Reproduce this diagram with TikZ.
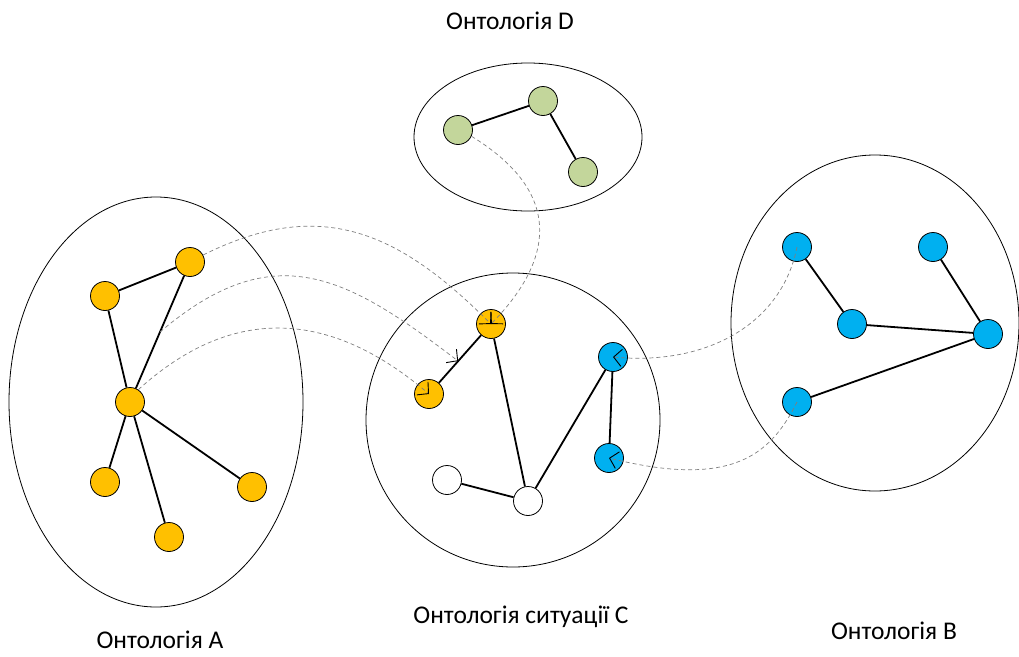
\documentclass[tikz,border=0pt]{standalone}
\usepackage{fontspec}
\setmainfont{Carlito}
\usetikzlibrary{arrows.meta,calc}
\definecolor{ogold}{HTML}{FFC000}
\definecolor{oblue}{HTML}{00B0F0}
\definecolor{ogreen}{HTML}{C3D69B}
\definecolor{mapgrey}{HTML}{7F7F7F}
\begin{document}
\begin{tikzpicture}[x=1pt,y=-1pt,
  font=\fontsize{25.5}{30}\selectfont,
  conc/.style={circle,draw=black,line width=0.8pt,minimum size=29pt,inner sep=0pt},
  onode/.style={conc,fill=ogold},
  bnode/.style={conc,fill=oblue},
  gnode/.style={conc,fill=ogreen},
  wnode/.style={conc,fill=white},
  link/.style={line width=1.8pt,black},
  onto/.style={line width=0.8pt,black},
  label/.style={anchor=base,inner sep=0pt,text depth=0pt},
  mapline/.style={mapgrey,line width=0.7pt,dash pattern=on 4pt off 3pt,
    -{Straight Barb[length=8pt,width=17pt,color=black,line width=0.9pt,sep=0pt]}}]
\useasboundingbox (0,0) rectangle (1019,656);
% container ellipses
\draw[onto] (156,402) ellipse [x radius=147pt, y radius=205pt];
\draw[onto] (528,137) ellipse [x radius=114pt, y radius=74pt];
\draw[onto] (513,420) ellipse [x radius=147pt, y radius=147pt];
\draw[onto] (875,323) ellipse [x radius=144pt, y radius=168pt];
% labels
\node[label] (labD) at (510,29) {Онтологія D};
\node[label] (labA) at (160,648) {Онтологія A};
\node[label] (labC) at (521,623) {Онтологія ситуації C};
\node[label] (labB) at (894,639) {Онтологія B};
% ontology A
\node[onode] (a1) at (190,262) {};
\node[onode] (a2) at (105,296) {};
\node[onode] (a3) at (130,402) {};
\node[onode] (a4) at (105,482) {};
\node[onode] (a5) at (252,487) {};
\node[onode] (a6) at (169,537) {};
% ontology D
\node[gnode] (d1) at (458,130) {};
\node[gnode] (d2) at (543,101) {};
\node[gnode] (d3) at (583,172) {};
% situation C
\node[onode] (c1) at (491,324) {};
\node[onode] (c2) at (429,394) {};
\node[bnode] (c3) at (613,357) {};
\node[bnode] (c4) at (609,458) {};
\node[wnode] (c5) at (447,480) {};
\node[wnode] (c6) at (528,501) {};
% ontology B
\node[bnode] (b1) at (797,247) {};
\node[bnode] (b2) at (933,247) {};
\node[bnode] (b3) at (852,324) {};
\node[bnode] (b4) at (988,334) {};
\node[bnode] (b5) at (797,402) {};
% edges
\draw[link] (a2) -- (a1);
\draw[link] (a2) -- (a3);
\draw[link] (a1) -- (a3);
\draw[link] (a3) -- (a4);
\draw[link] (a3) -- (a5);
\draw[link] (a3) -- (a6);
\draw[link] (d1) -- (d2);
\draw[link] (d2) -- (d3);
\draw[link] (c2) -- (c1);
\draw[link] (c1) -- (c6);
\draw[link] (c5) -- (c6);
\draw[link] (c6) -- (c3);
\draw[link] (c3) -- (c4);
\draw[link] (b1) -- (b3);
\draw[link] (b3) -- (b4);
\draw[link] (b2) -- (b4);
\draw[link] (b4) -- (b5);
% free ends on edges
\coordinate (ma) at ($(a3)!0.5!(a1)$);
\coordinate (mc) at ($(c2)!0.47!(c1)$);
% mapping curves
\draw[mapline] (a1.28) .. controls (323,195) and (401,234) .. (c1.center);
\draw[mapline] (ma) .. controls (274,235) and (347,276) .. (mc);
\draw[mapline] (a3.56) .. controls (235,302) and (333,312) .. (c2.center);
\draw[mapline] (d1.-25) .. controls (569,196) and (549,265) .. (c1.center);
\draw[mapline] (b1.center) .. controls (782,323) and (708,366) .. (c3.center);
\draw[mapline] (b5.center) .. controls (771,454) and (733,489) .. (c4.center);
\end{tikzpicture}
\end{document}
